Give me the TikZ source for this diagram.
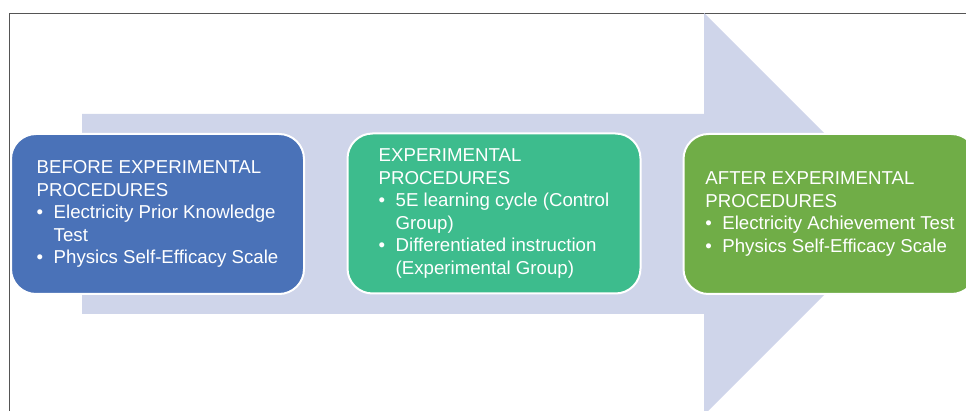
\documentclass[tikz,border=0pt]{standalone}
\usepackage{fontspec}
\setmainfont{Liberation Sans}

\definecolor{arrowfill}{HTML}{CFD5EA}
\definecolor{beforeblue}{HTML}{4A72B8}
\definecolor{procgreen}{HTML}{3DBC8D}
\definecolor{aftergreen}{HTML}{70AD47}
\definecolor{framegray}{HTML}{555555}

\tikzset{
  stagebox/.style={draw=white, line width=2pt, rounded corners=25pt,
    minimum width=293pt, minimum height=160pt, text=white, align=left,
    font=\fontsize{18.65}{22.5}\selectfont}
}

\newcommand{\bitem}{\makebox[17pt][l]{\textbullet}}
\newcommand{\bcont}{\hspace*{17pt}}

\begin{document}
\begin{tikzpicture}[x=1pt,y=-1pt]

% Fix the page size
\useasboundingbox (0,0) rectangle (966,411);

% Draw the frame (left and top sides)
\draw[framegray, line width=0.9pt] (9,411) -- (9,13) -- (966,13);

% Define the points of the big arrow
\coordinate (S1) at (82,114);
\coordinate (S2) at (704,114);
\coordinate (H1) at (704,13);
\coordinate (T) at (905,214);
\coordinate (H2) at (704,415);
\coordinate (S3) at (704,314);
\coordinate (S4) at (82,314);

% Draw the big arrow
\fill[arrowfill] (S1) -- (S2) -- (H1) -- (T) -- (H2) -- (S3) -- (S4) -- cycle;

% Stage before the experiment
\node[stagebox, fill=beforeblue] (before) at (157.5,214) {%
BEFORE EXPERIMENTAL\\
PROCEDURES\\
\bitem Electricity Prior Knowledge\\
\bcont Test\\
\bitem Physics Self-Efficacy Scale};

% Stage of the experiment
\node[stagebox, fill=procgreen] (proc) at (494,213.5) {%
EXPERIMENTAL\\
PROCEDURES\\
\bitem 5E learning cycle (Control\\
\bcont Group)\\
\bitem Differentiated instruction\\
\bcont (Experimental Group)};

% Stage after the experiment
\node[stagebox, fill=aftergreen] (after) at (830,214) {%
AFTER EXPERIMENTAL\\
PROCEDURES\\
\bitem Electricity Achievement Test\\
\bitem Physics Self-Efficacy Scale};

\end{tikzpicture}
\end{document}
